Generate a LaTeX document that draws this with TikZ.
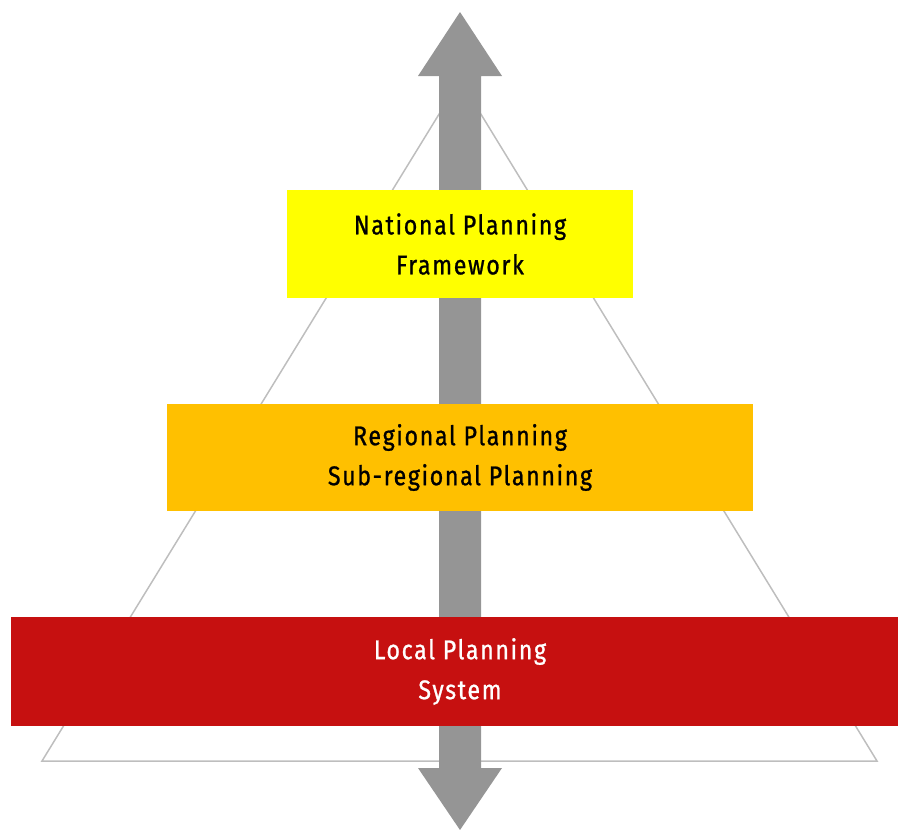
\documentclass[tikz,border=0pt]{standalone}
\usepackage{fontspec}
\setmainfont{Fira Sans}[FakeStretch=0.86,LetterSpace=6,FakeBold=0.9]
\definecolor{arrowgray}{HTML}{959595}
\definecolor{trigray}{HTML}{BEBEBE}
\definecolor{natyellow}{HTML}{FFFF00}
\definecolor{regorange}{HTML}{FFC000}
\definecolor{locred}{HTML}{C61010}
\tikzset{
  levelbox/.style={rectangle,inner sep=0pt,align=center,font=\fontsize{27}{40}\selectfont},
}
\begin{document}
\begin{tikzpicture}[x=1pt,y=-1pt]
\useasboundingbox (0,0) rectangle (898,830);
\clip (0,0) rectangle (898,830);
\draw[trigray,line width=1.5pt,line join=miter] (460,80) -- (42,761) -- (877,761) -- cycle;
\fill[arrowgray] (460,12) -- (502,76) -- (481,76) -- (481,768) -- (502,768) -- (460,830) -- (418,768) -- (439,768) -- (439,76) -- (418,76) -- cycle;
\node[levelbox,fill=natyellow,minimum width=346pt,minimum height=108pt] (nat) at (460,244) {National Planning\\Framework};
\node[levelbox,fill=regorange,minimum width=586pt,minimum height=107pt] (reg) at (460,457.5) {Regional Planning\\Sub-regional Planning};
\node[levelbox,fill=locred,minimum width=898pt,minimum height=109pt,text=white] (loc) at (460,671.5) {Local Planning\\System};
\end{tikzpicture}
\end{document}
